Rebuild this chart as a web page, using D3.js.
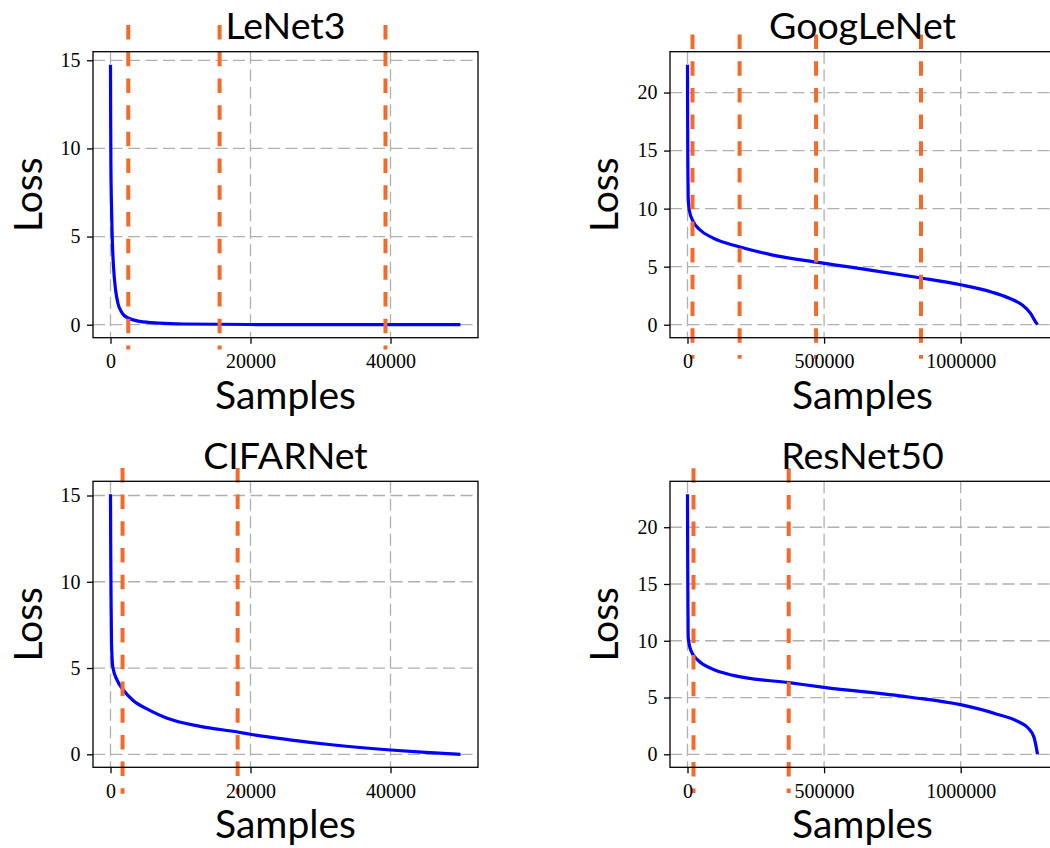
<!DOCTYPE html>
<html>
<head>
<meta charset="utf-8">
<script src="https://cdn.jsdelivr.net/npm/d3@7"></script>
<style>
  body { margin: 0; background: #fff; }
  .title, .x-label, .y-label { font-family: Lato, sans-serif; font-weight: 400; fill: #000; }
  .tick text { font-family: "Liberation Serif", serif; font-size: 20px; fill: #000; }
  .tick line { stroke: #000; stroke-width: 1.3; }
</style>
</head>
<body>
<div id="figure"></div>
<script>
/* Data ************************************************************************/

var panel_names = ['LeNet3', 'GoogLeNet', 'CIFARNet', 'ResNet50'];

// sorted per-sample loss
var lenet3_samples = [0, 20, 60, 130, 240, 430, 720, 1050, 1670, 2500, 4200, 7000, 10400, 20000, 35000, 50000],
    lenet3_loss    = [14.75, 12.0, 9.0, 7.0, 5.0, 3.3, 2.0, 1.23, 0.66, 0.38, 0.19, 0.09, 0.04, 0.01, 0.003, 0.0];

var googlenet_samples = [0, 500, 1200, 2400, 6100, 20800, 45200, 94000, 186000, 308000, 470700, 663000,
                         856000, 999000, 1115000, 1176000, 1224000, 1255000, 1273000, 1281167],
    googlenet_loss    = [22.4, 18.0, 14.0, 11.04, 9.9, 8.9, 8.18, 7.46, 6.74, 6.02, 5.39, 4.73,
                         4.02, 3.44, 2.8, 2.3, 1.72, 1.0, 0.29, 0.0];

var cifarnet_samples = [0, 30, 80, 140, 330, 960, 1860, 3200, 5600, 8000, 12800, 18165, 20000,
                        25600, 31900, 40000, 45000, 50000],
    cifarnet_loss    = [15.07, 12.0, 9.0, 6.6, 5.06, 4.29, 3.71, 3.13, 2.55, 2.11, 1.62, 1.29, 1.16,
                        0.84, 0.54, 0.25, 0.11, 0.0];

var resnet50_samples = [0, 600, 1400, 2400, 12200, 39000, 88000, 167500, 371700, 500000, 809000,
                        999000, 1127000, 1213000, 1249000, 1268000, 1274000, 1281167],
    resnet50_loss    = [22.9, 18.0, 14.0, 10.33, 9.15, 8.27, 7.54, 6.95, 6.31, 5.9, 5.05,
                        4.37, 3.58, 2.85, 2.26, 1.52, 0.94, 0.0];

// vertical marker positions (samples) and their vertical extent (loss units)
var lenet3_marks    = [2540, 15585, 39283],
    googlenet_marks = [18340, 190760, 470660, 854730],
    cifarnet_marks  = [1720, 18165],
    resnet50_marks  = [22000, 370500];

var lenet3_mark_span    = [17.0, -1.4],
    googlenet_mark_span = [25.0, -2.93],
    cifarnet_mark_span  = [16.6, -2.28],
    resnet50_mark_span  = [25.2, -3.41];

// tick values
var small_xtics = [0, 20000, 40000],
    large_xtics = [0, 500000, 1000000],
    small_ytics = [0, 5, 10, 15],
    large_ytics = [0, 5, 10, 15, 20];

/* Functions *******************************************************************/

function padded(extent, frac=0.05)
{
    let d = (extent[1] - extent[0]) * frac;
    return [extent[0] - d, extent[1] + d];
}

function build_panel(svg, p)
{
    let g = svg.append('g').attr('transform', `translate(${p.left},${p.top})`),
        width = 385,
        height = 286,
        tic_length = 6;

    let pts = p.samples.map((s, i) => [s, p.loss[i]]);

    let x = d3.scaleLinear().domain(padded(d3.extent(p.samples))).range([0, width]),
        y = d3.scaleLinear().domain(padded(d3.extent(p.loss))).range([height, 0]);

    // grid //////////////////////////////////////////////////////////
    let grid = g.append('g')
        .attr('stroke', '#b0b0b0')
        .attr('stroke-width', 1.3)
        .attr('stroke-dasharray', '12 5.5');

    grid.selectAll('line.gx').data(p.xtics).enter()
        .append('line')
        .attr('x1', x).attr('x2', x)
        .attr('y1', 0).attr('y2', height);

    grid.selectAll('line.gy').data(p.ytics).enter()
        .append('line')
        .attr('x1', 0).attr('x2', width)
        .attr('y1', y).attr('y2', y);

    // loss curve ////////////////////////////////////////////////////
    let line = d3.line()
        .x(d => x(d[0]))
        .y(d => y(d[1]))
        .curve(d3.curveMonotoneX);

    g.append('path')
        .datum(pts)
        .attr('d', line)
        .attr('fill', 'none')
        .attr('stroke', '#0000ff')
        .attr('stroke-width', 3.2);

    // vertical markers //////////////////////////////////////////////
    g.append('g').selectAll('line').data(p.marks).enter()
        .append('line')
        .attr('x1', x).attr('x2', x)
        .attr('y1', y(p.span[0])).attr('y2', y(p.span[1]))
        .attr('stroke', '#f36a2b')
        .attr('stroke-width', 4)
        .attr('stroke-dasharray', '14.5 12.2');

    // axes //////////////////////////////////////////////////////////
    let xaxis = g.append('g')
        .attr('transform', `translate(0,${height})`)
        .call(d3.axisBottom(x).tickValues(p.xtics).tickFormat(d3.format('d'))
              .tickSize(tic_length).tickSizeOuter(0).tickPadding(10.3));

    let yaxis = g.append('g')
        .call(d3.axisLeft(y).tickValues(p.ytics).tickFormat(d3.format('d'))
              .tickSize(tic_length).tickSizeOuter(0).tickPadding(6.5));

    xaxis.select('.domain').remove();
    yaxis.select('.domain').remove();

    // bounding box
    g.append('rect')
        .attr('width', width)
        .attr('height', height)
        .attr('fill', 'none')
        .attr('stroke', '#000')
        .attr('stroke-width', 1.3);

    // labels ////////////////////////////////////////////////////////
    g.append('text')
        .attr('x', width / 2)
        .attr('y', -12.7)
        .attr('text-anchor', 'middle')
        .attr('font-size', 37.5)
        .attr('class', 'title')
        .text(p.name);

    g.append('text')
        .attr('x', width / 2)
        .attr('y', height + 71)
        .attr('text-anchor', 'middle')
        .attr('font-size', 39)
        .attr('class', 'x-label')
        .text('Samples');

    let x0 = p.left == 93 ? -51 : -52,
        y0 = height / 2;

    g.append('text')
        .attr('x', x0)
        .attr('y', y0)
        .attr('transform', `rotate(-90, ${x0}, ${y0})`)
        .attr('text-anchor', 'middle')
        .attr('font-size', 39)
        .attr('class', 'y-label')
        .text('Loss');
}

/* Main ************************************************************************/

var panels = [
    { name: panel_names[0], samples: lenet3_samples, loss: lenet3_loss, marks: lenet3_marks,
      span: lenet3_mark_span, xtics: small_xtics, ytics: small_ytics, left: 93, top: 51.7 },
    { name: panel_names[1], samples: googlenet_samples, loss: googlenet_loss, marks: googlenet_marks,
      span: googlenet_mark_span, xtics: large_xtics, ytics: large_ytics, left: 670, top: 51.7 },
    { name: panel_names[2], samples: cifarnet_samples, loss: cifarnet_loss, marks: cifarnet_marks,
      span: cifarnet_mark_span, xtics: small_xtics, ytics: small_ytics, left: 93, top: 481.3 },
    { name: panel_names[3], samples: resnet50_samples, loss: resnet50_loss, marks: resnet50_marks,
      span: resnet50_mark_span, xtics: large_xtics, ytics: large_ytics, left: 670, top: 481.3 }
];

var svg = d3.select('#figure').append('svg')
    .attr('width', 1050)
    .attr('height', 848);

panels.forEach(p => build_panel(svg, p));
</script>
</body>
</html>
